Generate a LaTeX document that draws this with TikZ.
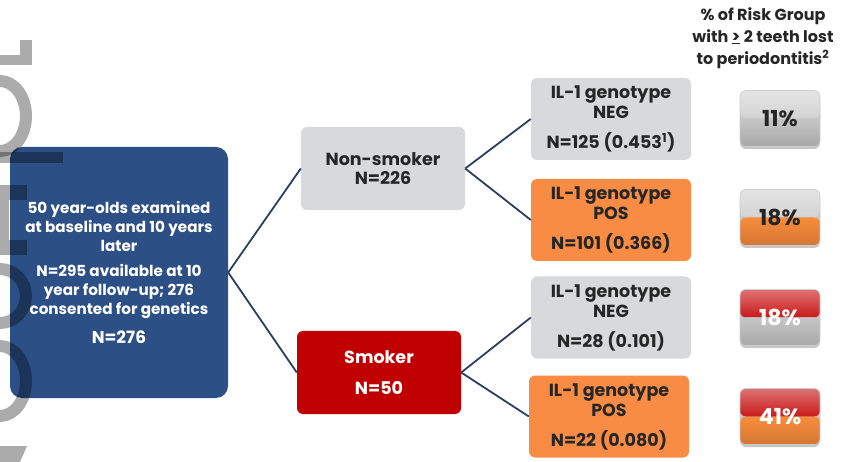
\documentclass[tikz,border=0pt]{standalone}
\usepackage{fontspec}
\setmainfont{Poppins}
\usetikzlibrary{shadows}
\definecolor{cblue}{RGB}{44,79,134}
\definecolor{cgray}{RGB}{216,217,219}
\definecolor{corange}{RGB}{248,140,68}
\definecolor{cred}{RGB}{192,0,0}
\definecolor{cline}{RGB}{42,62,100}
\definecolor{bgrayT}{RGB}{206,206,206}
\definecolor{bgrayB}{RGB}{198,198,198}
\definecolor{bred}{RGB}{196,0,0}
\definecolor{borange}{RGB}{248,140,60}
\begin{document}
\begin{tikzpicture}[x=1pt,y=-1pt,
  box/.style={rounded corners=6pt, minimum width=160pt, minimum height=82pt,
    align=center, inner sep=0pt, font=\bfseries\fontsize{17.5}{20}\selectfont},
  graybox/.style={box, fill=cgray, text=black!85},
  orangebox/.style={box, fill=corange, text=black!85},
  conn/.style={draw=cline, line width=1.8pt},
  btn/.style n args={3}{rounded corners=6pt, minimum width=80pt, minimum height=56pt,
    inner sep=0pt, text=#3, font=\bfseries\fontsize{22}{24}\selectfont,
    drop shadow={shadow xshift=0pt, shadow yshift=-2.5pt, opacity=0.45},
    path picture={
      \shade[top color=#1!55!white, bottom color=#1, middle color=#1!90!white] (path picture bounding box.north west) rectangle (path picture bounding box.east);
      \shade[top color=#2, bottom color=#2!85!black] (path picture bounding box.west) rectangle (path picture bounding box.south east);
    }, draw=black!20, line width=0.6pt},
  wm/.style={black, opacity=0.33}
]
\useasboundingbox (0,0) rectangle (846,462);

% main boxes
\node[rounded corners=12pt, fill=cblue, minimum width=218pt, minimum height=251pt,
  text=white, align=center, inner sep=0pt, font=\bfseries\fontsize{15.2}{19}\selectfont]
  (base) at (119,272.5)
  {50 year-olds examined\\at baseline and 10 years\\later\\[6pt]
   N=295 available at 10\\year follow-up; 276\\consented for genetics\\[10pt]
   {\fontsize{17}{19}\selectfont N=276}};

\node[box, fill=cgray, text=black!85, minimum width=164pt, minimum height=83pt,
  font=\bfseries\fontsize{17.5}{19.5}\selectfont] (non) at (383,168.5) {Non-smoker\\N=226};
\node[box, fill=cred, text=white, minimum width=164pt, minimum height=83pt,
  font=\bfseries\fontsize{17.5}{19.5}\selectfont] (smk) at (379,372.5) {Smoker\\[11pt]N=50};

\node[graybox] (neg1) at (611,119) {IL-1 genotype\\NEG\\[10pt]N=125 (0.453\textsuperscript{1})};
\node[orangebox] (pos1) at (611,220) {IL-1 genotype\\POS\\[10pt]N=101 (0.366)};
\node[graybox] (neg2) at (611,317.5) {IL-1 genotype\\NEG\\[10pt]N=28 (0.101)};
\node[orangebox] (pos2) at (609,416.5) {IL-1 genotype\\POS\\[10pt]N=22 (0.080)};

% connectors
\draw[conn] (base.east) -- (non.west);
\draw[conn] (base.east) -- (smk.west);
\draw[conn] (non.east) -- (neg1.west);
\draw[conn] (non.east) -- (pos1.west);
\draw[conn] (smk.east) -- (neg2.west);
\draw[conn] (smk.east) -- (pos2.west);

% header
\node[align=center, font=\bfseries\fontsize{16}{22}\selectfont, text=black!85] (hdr) at (763,38)
  {\% of Risk Group\\with \underline{>} 2 teeth lost\\to periodontitis\textsuperscript{2}};

% percentage buttons
\node[btn={bgrayT}{bgrayB}{black!85}] (b1) at (780,118.5) {11\%};
\node[btn={bgrayT}{borange}{black!85}] (b2) at (780,217.5) {18\%};
\node[btn={bred}{bgrayB}{white}] (b3) at (780,317.5) {18\%};
\node[btn={bred}{borange}{white}] (b4) at (780,416.5) {41\%};

% watermark fragments at left edge
\fill[wm] (20,40) rectangle (32,65);
\fill[wm] (0,55) rectangle (20,65);
\draw[wm, line width=12pt] (0,116) ellipse [x radius=26, y radius=35];
\fill[wm] (0,152) rectangle (63,163);
\fill[wm] (0,185) rectangle (27,200);
\fill[wm] (0,200) rectangle (9,240);
\fill[wm] (0,240) rectangle (27,255);
\draw[wm, line width=12pt] (0,296) ellipse [x radius=26, y radius=27];
\draw[wm, line width=12pt] (0,381) ellipse [x radius=26, y radius=35];
\fill[wm] (0,446) -- (27,446) -- (20,462) -- (0,462) -- cycle;
\end{tikzpicture}
\end{document}
